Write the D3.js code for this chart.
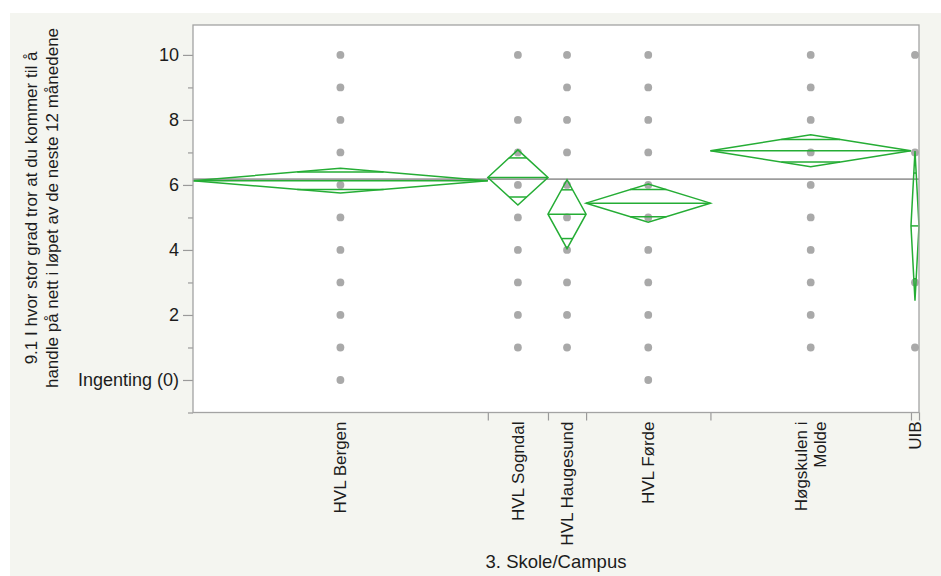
<!DOCTYPE html>
<html>
<head>
<meta charset="utf-8">
<script src="https://cdn.jsdelivr.net/npm/d3@7"></script>
<style>
  html, body { margin: 0; padding: 0; background: #ffffff; }
  svg { display: block; }
  text { font-family: "Liberation Sans", Arial, Helvetica, sans-serif; fill: #1c1c1c; }
</style>
</head>
<body>
<svg id="chart" width="941" height="576"></svg>
<script>
// Campuses, in axis order; widths along x are proportional to group size
const categories = ["HVL Bergen", "HVL Sogndal", "HVL Haugesund", "HVL Førde", "Høgskulen i Molde", "UIB"];
const categoryLines = [["HVL Bergen"], ["HVL Sogndal"], ["HVL Haugesund"], ["HVL Førde"], ["Høgskulen i", "Molde"], ["UIB"]];
const groupSizes = [147, 30, 19, 62, 100, 4];
// Group means and 95% confidence half-widths (means diamonds)
const groupMeans = [6.13, 6.23, 5.10, 5.44, 7.05, 4.74];
const ciHalfWidths = [0.38, 0.85, 1.06, 0.59, 0.49, 2.30];
const grandMean = 6.18;
// Distinct answer values observed in each group
const bergenValues = [0, 1, 2, 3, 4, 5, 6, 7, 8, 9, 10];
const sogndalValues = [1, 2, 3, 4, 5, 6, 7, 8, 10];
const haugesundValues = [1, 2, 3, 4, 5, 6, 7, 8, 9, 10];
const fordeValues = [0, 1, 2, 3, 4, 5, 6, 7, 8, 9, 10];
const moldeValues = [1, 2, 3, 4, 5, 6, 7, 8, 9, 10];
const uibValues = [1, 3, 7, 10];
const observedValues = [bergenValues, sogndalValues, haugesundValues, fordeValues, moldeValues, uibValues];
// Axis ticks
const yMajorTicks = [0, 2, 4, 6, 8, 10];
const yMinorTicks = [-1, 1, 3, 5, 7, 9];
const yTickLabels = ["Ingenting (0)", "2", "4", "6", "8", "10"];
const yTitleLines = ["9.1 I hvor stor grad tror at du kommer til å", "handle på nett i løpet av de neste 12 månedene"];
const xTitle = "3. Skole/Campus";

const svg = d3.select("#chart");
const plot = { left: 193, right: 919, top: 25, bottom: 412.5 };
const green = "#25ad35";

// panel background
svg.append("rect").attr("x", 10).attr("y", 13).attr("width", 931).attr("height", 563).attr("fill", "#f4f5f0");
svg.append("rect").attr("x", plot.left).attr("y", plot.top)
  .attr("width", plot.right - plot.left).attr("height", plot.bottom - plot.top).attr("fill", "#ffffff");

const y = d3.scaleLinear().domain([-1, 10.92]).range([plot.bottom, plot.top]);
const total = d3.sum(groupSizes);
const x = d3.scaleLinear().domain([0, total]).range([plot.left, plot.right]);
const edges = [0];
groupSizes.forEach((n, i) => edges.push(edges[i] + n));
const groups = categories.map((c, i) => ({
  name: c, lines: categoryLines[i],
  x0: x(edges[i]), x1: x(edges[i + 1]), xc: x(edges[i] + groupSizes[i] / 2),
  mean: groupMeans[i], ci: ciHalfWidths[i], values: observedValues[i]
}));

// y axis: major and minor ticks
const yAxis = d3.axisLeft(y).tickValues(yMajorTicks).tickSize(10).tickPadding(4)
  .tickFormat((d, i) => yTickLabels[i]);
const gy = svg.append("g").attr("transform", `translate(${plot.left},0)`).call(yAxis);
gy.select(".domain").remove();
gy.selectAll(".tick line").attr("stroke", "#9a9a9a").attr("stroke-width", 1.2);
gy.selectAll(".tick text").attr("font-size", 18).style("fill", "#1c1c1c");
const yMinor = d3.axisLeft(y).tickValues(yMinorTicks).tickSize(5).tickFormat("");
const gym = svg.append("g").attr("transform", `translate(${plot.left},0)`).call(yMinor);
gym.select(".domain").remove();
gym.selectAll(".tick line").attr("stroke", "#9a9a9a").attr("stroke-width", 1.2);

// x axis: ticks at group boundaries
const xAxis = d3.axisBottom(x).tickValues(edges.slice(1)).tickSize(8).tickFormat("");
const gx = svg.append("g").attr("transform", `translate(0,${plot.bottom})`).call(xAxis);
gx.select(".domain").remove();
gx.selectAll(".tick line").attr("stroke", "#9a9a9a").attr("stroke-width", 1.2);

// category labels, rotated
groups.forEach(g => {
  const n = g.lines.length;
  const t = svg.append("text")
    .attr("transform", `translate(${g.xc},${plot.bottom + 9}) rotate(-90)`)
    .attr("text-anchor", "end").attr("font-size", 17);
  g.lines.forEach((line, k) => {
    t.append("tspan").attr("x", 0).attr("y", (k - (n - 1) / 2) * 19 + 6).text(line);
  });
});

// axis titles
svg.append("text").attr("x", (plot.left + plot.right) / 2).attr("y", 568)
  .attr("text-anchor", "middle").attr("font-size", 18.5).text(xTitle);
const yt = svg.append("text").attr("transform", "translate(41,208) rotate(-90)")
  .attr("text-anchor", "middle").attr("font-size", 17);
yTitleLines.forEach((line, k) => {
  yt.append("tspan").attr("x", 0).attr("y", (k - 0.5) * 21 + 6).text(line);
});

// observations
groups.forEach(g => {
  svg.append("g").selectAll("circle").data(g.values).join("circle")
    .attr("cx", g.xc).attr("cy", d => y(d)).attr("r", 3.9).attr("fill", "#a9a9a9");
});

// grand mean reference line
svg.append("line").attr("x1", plot.left).attr("x2", plot.right)
  .attr("y1", y(grandMean)).attr("y2", y(grandMean))
  .attr("stroke", "#9c9c9c").attr("stroke-width", 1.6);

// means diamonds with overlap marks
const line = d3.line().x(d => d[0]).y(d => d[1]);
groups.forEach(g => {
  const gg = svg.append("g").attr("fill", "none").attr("stroke", green).attr("stroke-width", 1.5);
  gg.append("path").attr("d", line([
    [g.x0, y(g.mean)], [g.xc, y(g.mean + g.ci)], [g.x1, y(g.mean)], [g.xc, y(g.mean - g.ci)]
  ]) + "Z").attr("stroke-linejoin", "miter");
  gg.append("line").attr("x1", g.x0).attr("x2", g.x1).attr("y1", y(g.mean)).attr("y2", y(g.mean));
  const f = Math.SQRT1_2;
  const hw = (1 - f) * (g.x1 - g.x0) / 2;
  [1, -1].forEach(s => {
    gg.append("line").attr("x1", g.xc - hw).attr("x2", g.xc + hw)
      .attr("y1", y(g.mean + s * f * g.ci)).attr("y2", y(g.mean + s * f * g.ci));
  });
});

// plot frame
svg.append("rect").attr("x", plot.left).attr("y", plot.top)
  .attr("width", plot.right - plot.left).attr("height", plot.bottom - plot.top)
  .attr("fill", "none").attr("stroke", "#a3a3a3").attr("stroke-width", 1.3);
</script>
</body>
</html>
